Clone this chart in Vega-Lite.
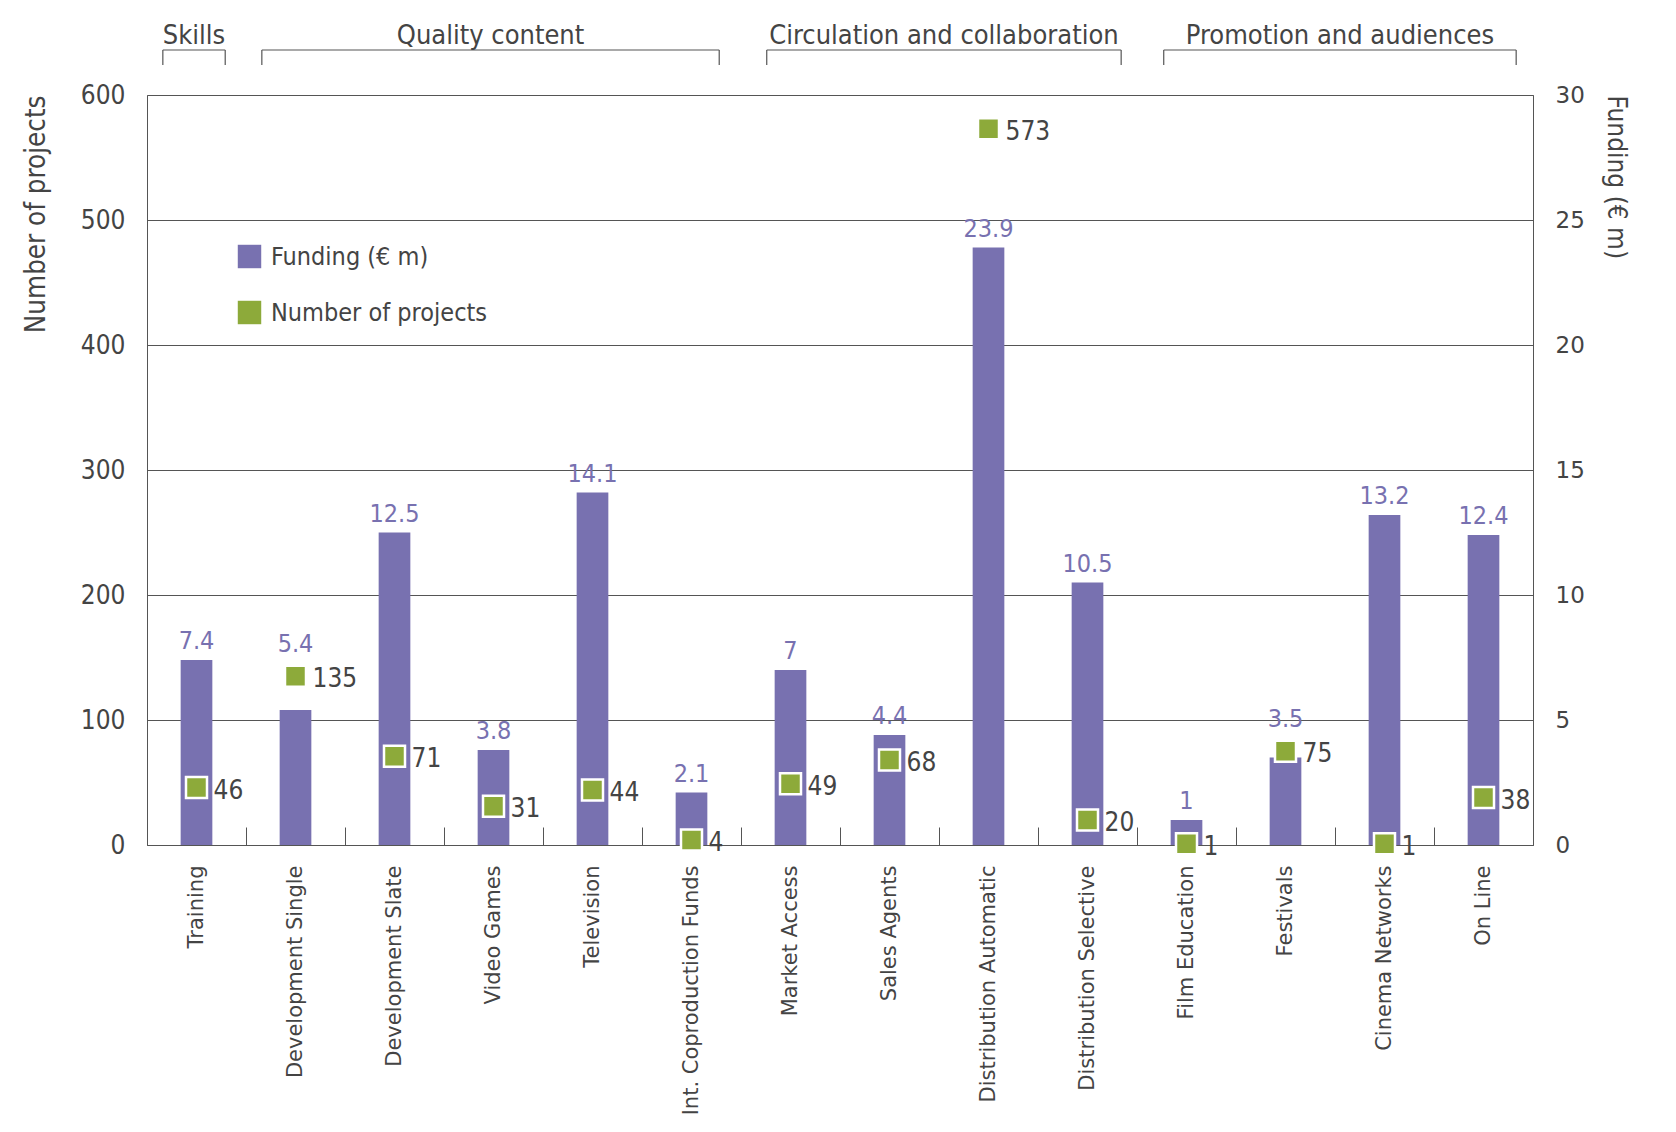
{
  "$schema": "https://vega.github.io/schema/vega-lite/v6.json",
  "width": 1386,
  "height": 750,
  "autosize": {"type": "none"},
  "padding": {"left": 147, "top": 95, "right": 143, "bottom": 287},
  "background": "white",
  "config": {
    "view": {"stroke": "#555555", "strokeWidth": 1},
    "font": "DejaVu Sans Condensed, Liberation Sans Narrow, Roboto Condensed, Roboto, sans-serif"
  },
  "datasets": {
    "main": [
      {"category": "Training", "funding": 7.4, "projects": 46},
      {"category": "Development Single", "funding": 5.4, "projects": 135},
      {"category": "Development Slate", "funding": 12.5, "projects": 71},
      {"category": "Video Games", "funding": 3.8, "projects": 31},
      {"category": "Television", "funding": 14.1, "projects": 44},
      {"category": "Int. Coproduction Funds", "funding": 2.1, "projects": 4},
      {"category": "Market Access", "funding": 7, "projects": 49},
      {"category": "Sales Agents", "funding": 4.4, "projects": 68},
      {"category": "Distribution Automatic", "funding": 23.9, "projects": 573},
      {"category": "Distribution Selective", "funding": 10.5, "projects": 20},
      {"category": "Film Education", "funding": 1, "projects": 1},
      {"category": "Festivals", "funding": 3.5, "projects": 75},
      {"category": "Cinema Networks", "funding": 13.2, "projects": 1},
      {"category": "On Line", "funding": 12.4, "projects": 38}
    ],
    "groups": [
      {"group": "Skills", "start": 0.16, "end": 0.79, "mid": 0.475},
      {"group": "Quality content", "start": 1.16, "end": 5.78, "mid": 3.47},
      {"group": "Circulation and collaboration", "start": 6.26, "end": 9.84, "mid": 8.05},
      {"group": "Promotion and audiences", "start": 10.27, "end": 13.83, "mid": 12.05}
    ]
  },
  "layer": [
    {
      "data": {"name": "main"},
      "encoding": {
        "x": {
          "field": "category", "type": "nominal", "sort": null,
          "scale": {"paddingInner": 0, "paddingOuter": 0},
          "axis": {
            "title": null, "labelAngle": -90, "labelAlign": "right", "labelBaseline": "middle",
            "labelFont": "DejaVu Sans", "labelFontSize": 21, "labelColor": "#444444",
            "labelPadding": 38, "labelLimit": 0,
            "ticks": true, "tickSize": -18, "tickBand": "extent", "tickColor": "#555555", "tickWidth": 1,
            "domain": false, "grid": false
          }
        },
        "y": {
          "field": "funding", "type": "quantitative",
          "scale": {"domain": [0, 30], "nice": false},
          "axis": {
            "orient": "right", "title": "Funding (€ m)", "values": [0, 5, 10, 15, 20, 25, 30],
            "ticks": false, "domain": false, "grid": false,
            "labelFont": "DejaVu Sans", "labelFontSize": 23, "labelColor": "#444444", "labelPadding": 22,
            "titleFont": "DejaVu Sans Condensed, Liberation Sans Narrow, Roboto Condensed, Roboto, sans-serif",
            "titleFontSize": 26, "titleFontWeight": "normal", "titleColor": "#444444",
            "titleAnchor": "end", "titleAlign": "left", "titlePadding": 18
          }
        }
      },
      "layer": [
        {
          "mark": {"type": "bar", "width": {"band": 0.32}, "opacity": 1},
          "encoding": {
            "color": {
              "datum": "Funding (€ m)", "type": "nominal",
              "scale": {"domain": ["Funding (€ m)", "Number of projects"], "range": ["#7871B0", "#8DAA3A"]},
              "legend": {
                "orient": "none", "legendX": 90, "legendY": 149, "title": null,
                "symbolType": "square", "symbolSize": 550, "symbolStrokeWidth": 0, "symbolOpacity": 1,
                "labelFont": "DejaVu Sans Condensed, Liberation Sans Narrow, Roboto Condensed, Roboto, sans-serif",
                "labelFontSize": 25, "labelColor": "#444444", "rowPadding": 30, "labelOffset": 9, "padding": 0,
                "labelLimit": 0
              }
            }
          }
        },
        {
          "transform": [{"filter": {"not": {"field": "category", "oneOf": ["Development Single", "Festivals"]}}}],
          "mark": {"type": "text", "baseline": "bottom", "dy": -6, "fontSize": 25, "color": "#7871B0"},
          "encoding": {"text": {"field": "funding", "type": "quantitative"}}
        }
      ]
    },
    {
      "data": {"name": "main"},
      "encoding": {
        "x": {
          "field": "category", "type": "nominal", "sort": null,
          "scale": {"paddingInner": 0, "paddingOuter": 0},
          "axis": null
        },
        "y": {
          "field": "projects", "type": "quantitative",
          "scale": {"domain": [0, 600], "nice": false},
          "axis": {
            "orient": "left", "title": "Number of projects", "values": [0, 100, 200, 300, 400, 500, 600],
            "ticks": false, "domain": false, "grid": true, "gridColor": "#555555", "gridWidth": 1, "gridOpacity": 1,
            "labelFontSize": 26, "labelColor": "#444444", "labelPadding": 22,
            "titleFontSize": 27.5, "titleFontWeight": "normal", "titleColor": "#444444",
            "titleAnchor": "end", "titlePadding": 30
          }
        }
      },
      "layer": [
        {
          "mark": {"type": "point", "shape": "square", "filled": true, "size": 441, "stroke": "white", "strokeWidth": 2.5, "opacity": 1},
          "encoding": {"color": {"datum": "Number of projects", "type": "nominal"}}
        },
        {
          "mark": {"type": "text", "align": "left", "baseline": "middle", "dx": 17, "dy": 3, "fontSize": 26, "color": "#444444"},
          "encoding": {"text": {"field": "projects", "type": "quantitative"}}
        },
        {
          "transform": [{"filter": {"field": "category", "oneOf": ["Development Single", "Festivals"]}}],
          "mark": {"type": "text", "baseline": "bottom", "dy": -19, "fontSize": 25, "color": "#7871B0"},
          "encoding": {"text": {"field": "funding", "type": "quantitative"}}
        }
      ]
    },
    {
      "data": {"name": "groups"},
      "layer": [
        {
          "mark": {"type": "rule", "color": "#555555", "strokeWidth": 1.2},
          "encoding": {
            "x": {"field": "start", "type": "quantitative", "scale": {"domain": [0, 14], "nice": false, "zero": false}, "axis": null},
            "x2": {"field": "end"},
            "y": {"datum": 636, "type": "quantitative", "scale": {"domain": [0, 600], "nice": false}, "axis": null}
          }
        },
        {
          "mark": {"type": "rule", "color": "#555555", "strokeWidth": 1.2},
          "encoding": {
            "x": {"field": "start", "type": "quantitative"},
            "y": {"datum": 624, "type": "quantitative"},
            "y2": {"datum": 636}
          }
        },
        {
          "mark": {"type": "rule", "color": "#555555", "strokeWidth": 1.2},
          "encoding": {
            "x": {"field": "end", "type": "quantitative"},
            "y": {"datum": 624, "type": "quantitative"},
            "y2": {"datum": 636}
          }
        },
        {
          "mark": {"type": "text", "baseline": "middle", "align": "center", "fontSize": 27, "color": "#444444"},
          "encoding": {
            "x": {"field": "mid", "type": "quantitative"},
            "y": {"datum": 647, "type": "quantitative"},
            "text": {"field": "group"}
          }
        }
      ]
    }
  ],
  "resolve": {"scale": {"x": "independent", "y": "independent"}}
}
